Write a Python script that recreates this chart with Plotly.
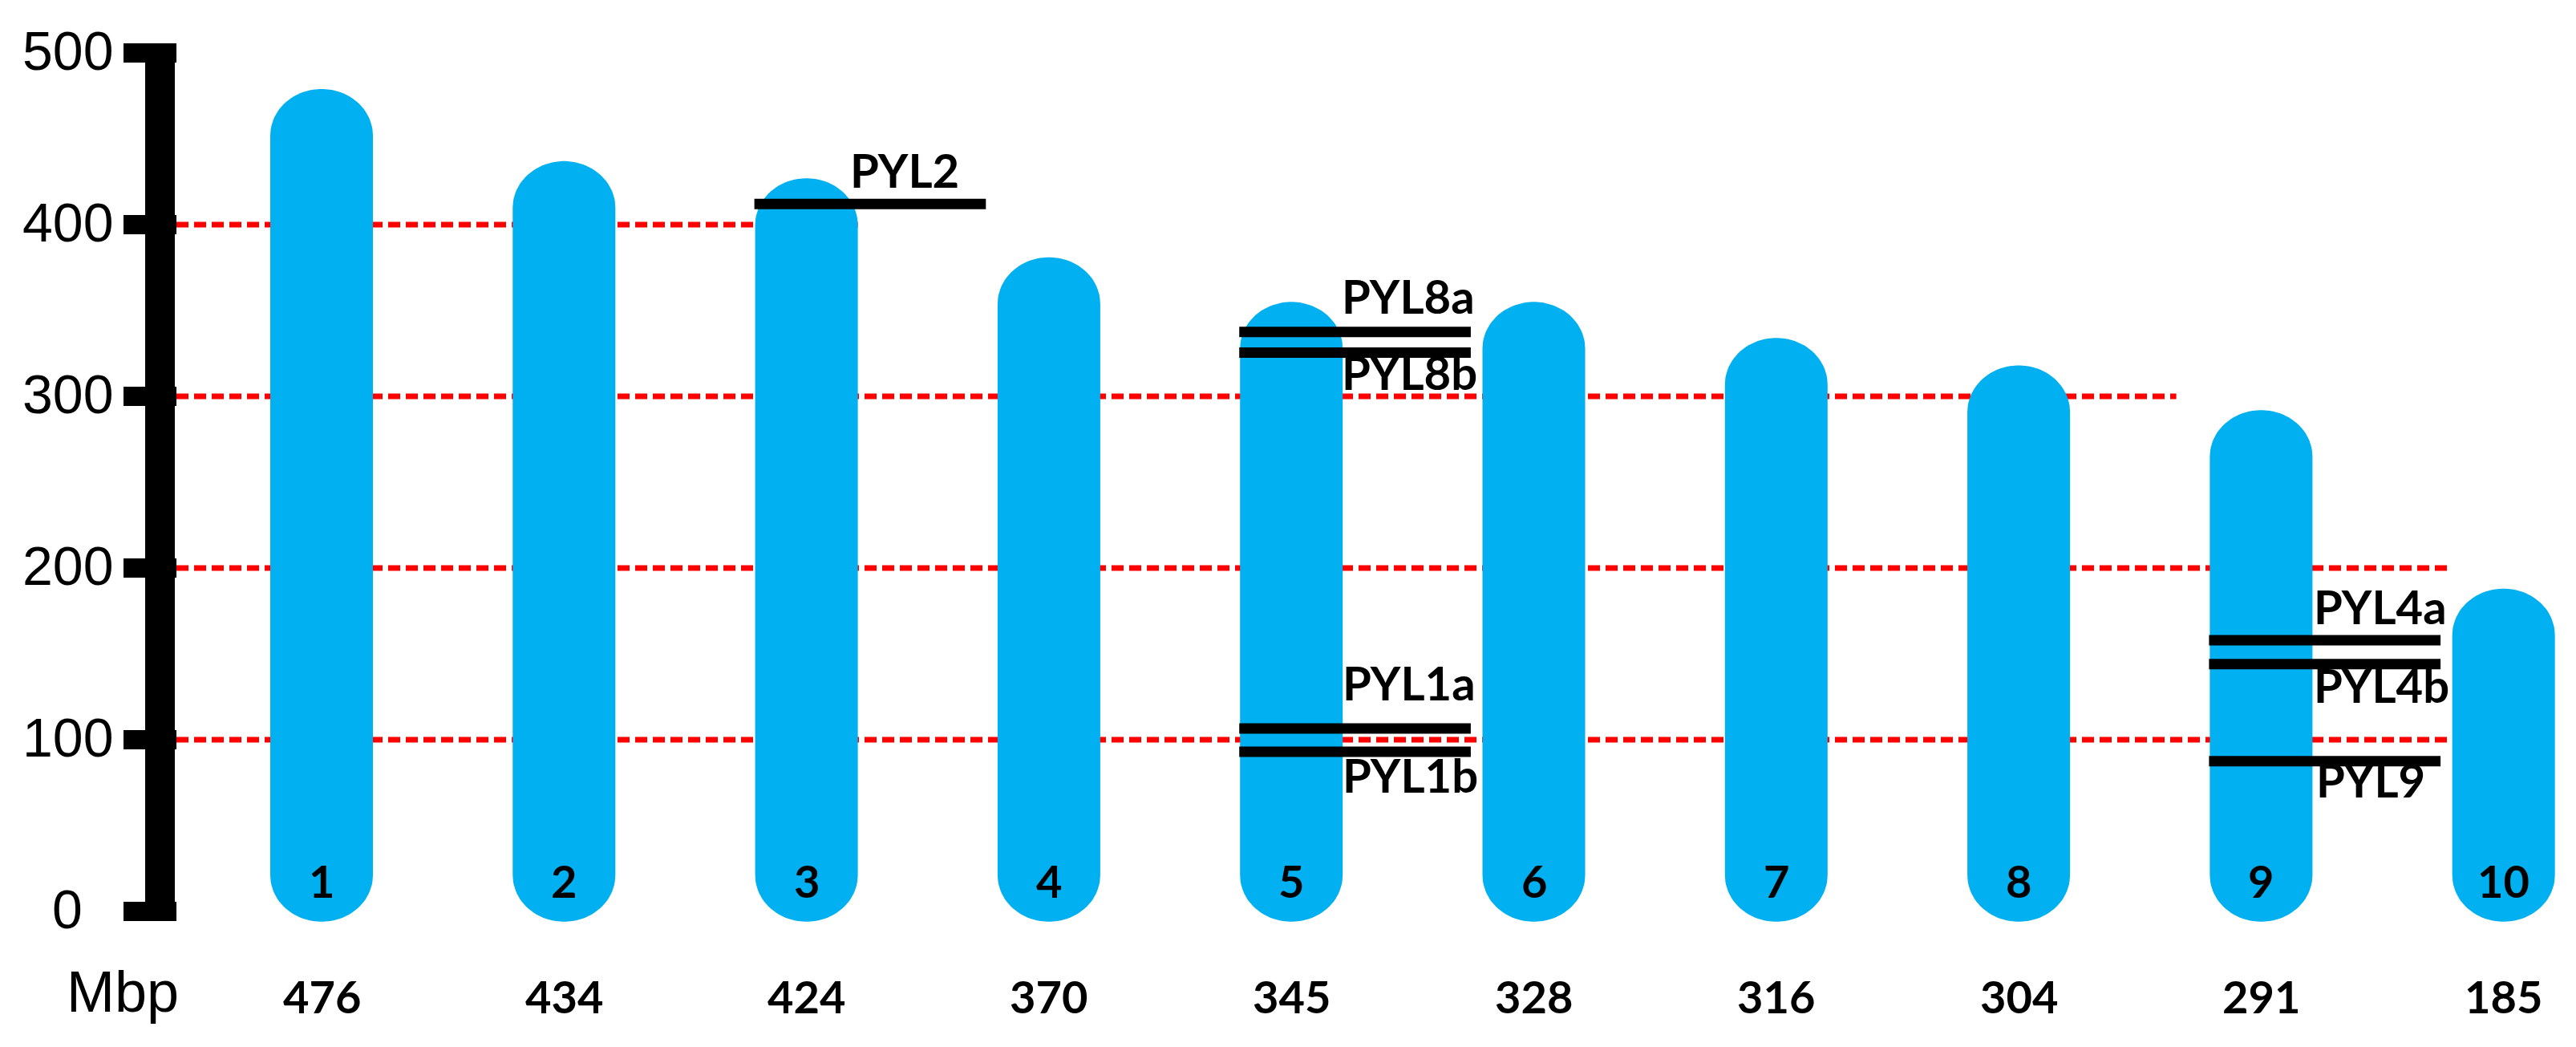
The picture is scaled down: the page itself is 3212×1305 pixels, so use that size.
import numpy as np
import plotly.graph_objects as go

# ---------------- data ----------------
chromosomes = ["1", "2", "3", "4", "5", "6", "7", "8", "9", "10"]
chrom_length_mbp = [476, 434, 424, 370, 345, 328, 316, 304, 291, 185]
# top / bottom of each drawn chromosome body, read on the Mbp scale
chrom_drawn_top = [479, 437, 427, 381, 355, 355, 334, 318, 292, 188]
chrom_drawn_bottom = [-6, -6, -6, -6, -6, -6, -6, -6, -6, -6]

gene_names = ["PYL2", "PYL8a", "PYL8b", "PYL1a", "PYL1b", "PYL4a", "PYL4b", "PYL9"]
gene_chrom = [3, 5, 5, 5, 5, 9, 9, 9]
gene_pos_mbp = [412, 337.5, 325.5, 106.5, 93, 158, 144, 87.5]

y_tick_vals = [0, 100, 200, 300, 400, 500]
y_tick_text = ["0", "100", "200", "300", "400", "500"]
guide_vals = [100, 200, 300, 400]
axis_unit = "Mbp"

# ---------------- styles / geometry ----------------
W, H = 3212, 1305
X0PX, DXPX = 393.0, 302.3          # pixel of chromosome 1 centre, spacing
Y0PX, DYPX = 1128.0, 2.14          # pixel of 0 Mbp, pixels per Mbp
xr = [1 - X0PX / DXPX, 1 + (W - X0PX) / DXPX]
yr = [-(H - Y0PX) / DYPX, Y0PX / DYPX]

BLUE = "#00B0F0"
half_w = 64 / DXPX
cap_ry = 58 / DYPX

guide_end_x = [10 - half_w, 10 - half_w, 8.65, 3 + half_w]
guide_start_x = 1 + (212 - X0PX) / DXPX

gene_line_x = (-0.215, 0.74)
gene_label_dx = [0.172, 0.202, 0.202, 0.205, 0.205, 0.209, 0.209, 0.219]
TXT_FIX = 11
gene_label_dy = [31.5, 34.5, -35, 46.5, -39.5, 31.5, -36.5, -33.5]

LABEL_FONT = dict(family="Lato, 'Open Sans', sans-serif", size=58, color="black")
NUM_FONT = dict(family="Lato, 'Open Sans', sans-serif", size=56, color="black")
AXIS_FONT = dict(family="'Liberation Sans', Arial, sans-serif", size=68, color="black")
UNIT_FONT = dict(family="'Liberation Sans', Arial, sans-serif", size=72, color="black")


def px2paper_x(px):
    return px / W


fig = go.Figure()

# chromosomes
t = np.linspace(0, np.pi, 48)
for i, (name, top, bot) in enumerate(zip(chromosomes, chrom_drawn_top, chrom_drawn_bottom)):
    xc = i + 1
    tx = xc + half_w * np.cos(t)
    ty = (top - cap_ry) + cap_ry * np.sin(t)
    bx = xc - half_w * np.cos(t)
    by = (bot + cap_ry) - cap_ry * np.sin(t)
    xs = np.concatenate([tx, bx, tx[:1]])
    ys = np.concatenate([ty, by, ty[:1]])
    fig.add_trace(go.Scatter(x=xs, y=ys, mode="lines", fill="toself",
                             fillcolor=BLUE, line=dict(width=0, color=BLUE),
                             hoverinfo="skip", showlegend=False))

# gene marker lines
for name, c, pos in zip(gene_names, gene_chrom, gene_pos_mbp):
    fig.add_trace(go.Scatter(x=[c + gene_line_x[0], c + gene_line_x[1]], y=[pos, pos],
                             mode="lines", line=dict(color="black", width=13),
                             hoverinfo="skip", showlegend=False))

shapes = []
for v, xe in zip(guide_vals, guide_end_x):
    shapes.append(dict(type="line", xref="x", yref="y", x0=guide_start_x, x1=xe,
                       y0=v, y1=v, layer="below",
                       line=dict(color="#FF0000", width=7, dash="15px,7px")))
shapes.append(dict(type="line", xref="paper", yref="y",
                   x0=px2paper_x(191.5), x1=px2paper_x(191.5),
                   y0=y_tick_vals[0], y1=y_tick_vals[-1],
                   line=dict(color="black", width=37)))
for v in y_tick_vals:
    shapes.append(dict(type="line", xref="paper", yref="y",
                       x0=px2paper_x(146), x1=px2paper_x(212), y0=v, y1=v,
                       line=dict(color="black", width=24)))

annotations = []
for v, txt in zip(y_tick_vals, y_tick_text):
    annotations.append(dict(x=px2paper_x(76), xref="paper", y=v, yref="y",
                            text=txt, showarrow=False, xanchor="center",
                            yanchor="middle", yshift=3, font=AXIS_FONT))
annotations.append(dict(x=px2paper_x(145), xref="paper", y=0, yref="y",
                        text=axis_unit, showarrow=False, xanchor="center",
                        yanchor="middle", yshift=-100, font=UNIT_FONT))

for i, (name, L) in enumerate(zip(chromosomes, chrom_length_mbp)):
    annotations.append(dict(x=i + 1, y=0, xref="x", yref="y", text=f"<b>{name}</b>",
                            showarrow=False, xanchor="center", yanchor="middle",
                            yshift=28 + TXT_FIX, font=NUM_FONT))
    annotations.append(dict(x=i + 1, y=0, xref="x", yref="y", text=f"<b>{L}</b>",
                            showarrow=False, xanchor="center", yanchor="middle",
                            yshift=-112 + TXT_FIX - 4, font=NUM_FONT))

for name, c, pos, dx, dy in zip(gene_names, gene_chrom, gene_pos_mbp, gene_label_dx, gene_label_dy):
    annotations.append(dict(x=c + dx, y=pos, xref="x", yref="y", text=f"<b>{name}</b>",
                            showarrow=False, xanchor="left", yanchor="middle",
                            yshift=dy + TXT_FIX, font=LABEL_FONT))

fig.update_layout(
    width=W, height=H,
    margin=dict(l=0, r=0, t=0, b=0),
    paper_bgcolor="white", plot_bgcolor="white",
    xaxis=dict(range=xr, visible=False, fixedrange=True),
    yaxis=dict(range=yr, visible=False, fixedrange=True),
    shapes=shapes, annotations=annotations, showlegend=False,
)

fig.write_html("out.html")
